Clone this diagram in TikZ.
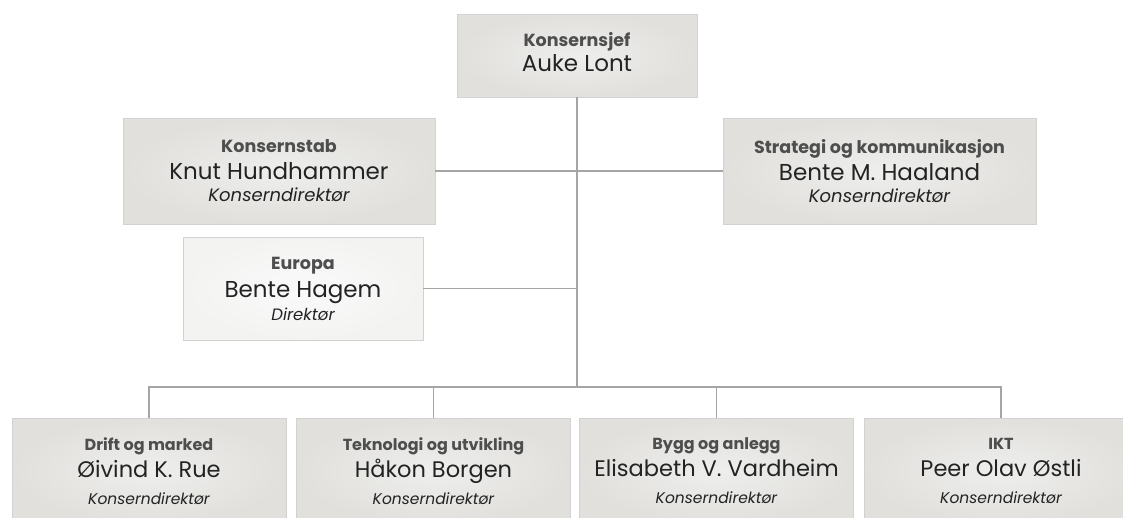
\documentclass[tikz,border=0pt]{standalone}
\usepackage{fontspec}
\setmainfont{Poppins}
\usetikzlibrary{shadows}
\definecolor{boxfill}{RGB}{225,224,221}
\definecolor{boxfillc}{RGB}{238,238,236}
\definecolor{boxline}{RGB}{210,210,208}
\definecolor{eufill}{RGB}{243,243,242}
\definecolor{eufillc}{RGB}{250,250,250}
\definecolor{conn}{RGB}{165,165,165}
\definecolor{ttlc}{RGB}{78,78,78}
\definecolor{nmc}{RGB}{35,35,35}
\newcommand{\cardttl}[2]{{\fontsize{#1}{23}\selectfont\bfseries\color{ttlc}#2}}
\newcommand{\cardnm}[2]{{\fontsize{#1}{23}\selectfont\color{nmc}#2}}
\newcommand{\cardrl}[2]{{\fontsize{#1}{23}\selectfont\itshape\color{nmc}#2}}
\begin{document}
\begin{tikzpicture}[x=1pt,y=-1pt,
  card/.style={draw=boxline, line width=0.6pt, inner color=boxfillc, outer color=boxfill,
    shading=radial, align=center, inner sep=0pt,
    drop shadow={opacity=0.18, shadow xshift=0.6pt, shadow yshift=-1.2pt},
    font=\fontsize{19}{23}\selectfont},
  lightcard/.style={card, inner color=eufillc, outer color=eufill},
  conn/.style={draw=conn, line width=1.2pt}]
\useasboundingbox (0,0) rectangle (1123,517);
\clip (0,0) rectangle (1123,517);

\node[card, minimum width=240pt, minimum height=83pt, text depth=7pt] (ceo) at (577,55.5)
  {\cardttl{17.5}{Konsernsjef}\\[2pt]\cardnm{23}{Auke Lont}};

\node[card, minimum width=312pt, minimum height=106pt] (stab) at (279,171)
  {\cardttl{17.5}{Konsernstab}\\[4pt]\cardnm{23}{Knut Hundhammer}\\[-1pt]\cardrl{18}{Konserndirektør}};
\node[card, minimum width=313pt, minimum height=106pt] (strat) at (879.5,171)
  {\cardttl{17.5}{Strategi og kommunikasjon}\\[4pt]\cardnm{23}{Bente M. Haaland}\\[-1pt]\cardrl{18}{Konserndirektør}};

\node[lightcard, minimum width=240pt, minimum height=103pt] (eu) at (303,288.5)
  {\cardttl{17.5}{Europa}\\[5pt]\cardnm{23}{Bente Hagem}\\[0pt]\cardrl{16.5}{Direktør}};

\node[card, minimum width=274pt, minimum height=106pt] (drift) at (149,471)
  {\cardttl{16}{Drift og marked}\\[4pt]\cardnm{22.5}{Øivind K. Rue}\\[4pt]\cardrl{15.5}{Konserndirektør}};
\node[card, minimum width=274pt, minimum height=106pt] (tek) at (433.5,471)
  {\cardttl{16}{Teknologi og utvikling}\\[4pt]\cardnm{22.5}{Håkon Borgen}\\[4pt]\cardrl{15.5}{Konserndirektør}};
\node[card, minimum width=274pt, minimum height=106pt] (bygg) at (716.5,471)
  {\cardttl{16}{Bygg og anlegg}\\[4pt]\cardnm{22.5}{Elisabeth V. Vardheim}\\[4pt]\cardrl{15.5}{Konserndirektør}};
\node[card, minimum width=274pt, minimum height=106pt] (ikt) at (1001,471)
  {\cardttl{16}{IKT}\\[4pt]\cardnm{22.5}{Peer Olav Østli}\\[4pt]\cardrl{15.5}{Konserndirektør}};

\coordinate (bus) at (577,387);
\draw[conn] (ceo.south) -- (bus);
\draw[conn] (stab.east) -- (strat.west);
\draw[conn] (eu.east) -- (eu.east -| ceo.south);
\draw[conn] (drift.north) |- (bus) -| (ikt.north);
\draw[conn] (tek.north) -- (tek.north |- bus);
\draw[conn] (bygg.north) -- (bygg.north |- bus);
\end{tikzpicture}
\end{document}
